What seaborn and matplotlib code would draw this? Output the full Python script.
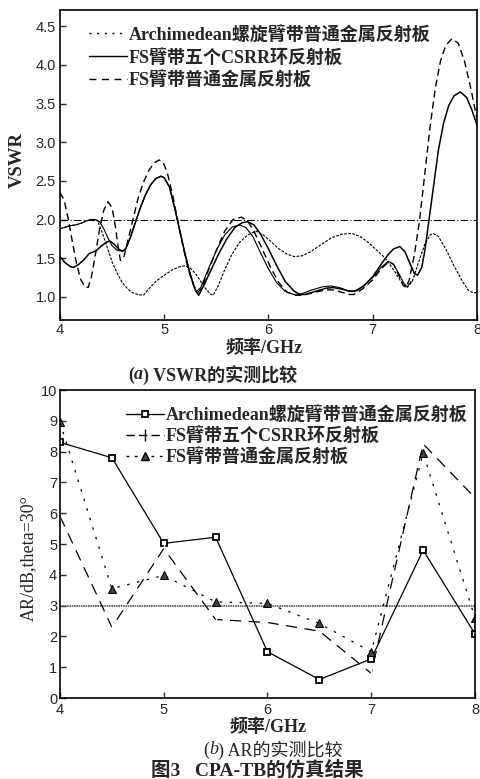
import matplotlib
matplotlib.use("Agg")
import matplotlib.pyplot as plt
import seaborn as sns
from matplotlib.lines import Line2D
from matplotlib.font_manager import FontProperties

# ---------- data: (a) VSWR ----------
# FS臂带普通金属反射板 (dashed)
d_f = [4.00, 4.04, 4.08, 4.12, 4.16, 4.20, 4.24, 4.27, 4.30, 4.34, 4.38, 4.42, 4.46, 4.50,
       4.53, 4.56, 4.58, 4.61, 4.65, 4.70, 4.75, 4.80, 4.85, 4.90, 4.95, 4.99, 5.03, 5.08,
       5.13, 5.18, 5.23, 5.28, 5.32, 5.36, 5.42, 5.50, 5.58, 5.66, 5.74, 5.80, 5.86, 5.94,
       6.02, 6.10, 6.18, 6.26, 6.33, 6.45, 6.55, 6.62, 6.70, 6.78, 6.82, 6.90, 7.00, 7.08,
       7.15, 7.20, 7.25, 7.29, 7.32, 7.35, 7.40, 7.45, 7.50, 7.55, 7.60, 7.65, 7.70, 7.76,
       7.82, 7.88, 7.94, 8.00]
d_v = [2.35, 2.25, 2.00, 1.70, 1.42, 1.22, 1.13, 1.12, 1.25, 1.55, 1.88, 2.12, 2.23, 2.15,
       1.92, 1.62, 1.47, 1.50, 1.72, 2.00, 2.28, 2.48, 2.63, 2.73, 2.77, 2.74, 2.60, 2.32,
       1.98, 1.65, 1.36, 1.15, 1.05, 1.12, 1.33, 1.60, 1.85, 2.00, 2.03, 1.98, 1.85, 1.62,
       1.38, 1.18, 1.06, 1.02, 1.02, 1.06, 1.09, 1.09, 1.06, 1.03, 1.03, 1.10, 1.22, 1.36,
       1.45, 1.42, 1.28, 1.15, 1.12, 1.22, 1.55, 2.00, 2.60, 3.20, 3.70, 4.05, 4.25, 4.34,
       4.28, 4.05, 3.70, 3.30]

# FS臂带五个CSRR环反射板 (solid)
s_f = [4.00, 4.05, 4.10, 4.13, 4.18, 4.23, 4.28, 4.32, 4.35, 4.40, 4.45, 4.48, 4.52, 4.56,
       4.60, 4.63, 4.67, 4.72, 4.77, 4.82, 4.87, 4.92, 4.97, 5.00, 5.05, 5.10, 5.15, 5.20,
       5.25, 5.30, 5.33, 5.38, 5.45, 5.52, 5.60, 5.68, 5.75, 5.80, 5.86, 5.92, 6.00, 6.08,
       6.16, 6.24, 6.30, 6.35, 6.45, 6.55, 6.62, 6.70, 6.78, 6.85, 6.92, 7.00, 7.08, 7.15,
       7.20, 7.26, 7.31, 7.36, 7.40, 7.43, 7.47, 7.50, 7.54, 7.58, 7.63, 7.68, 7.73, 7.78,
       7.84, 7.90, 7.95, 8.00]
s_v = [1.52, 1.44, 1.39, 1.38, 1.42, 1.48, 1.56, 1.58, 1.60, 1.66, 1.71, 1.72, 1.68, 1.62,
       1.59, 1.62, 1.75, 1.95, 2.15, 2.32, 2.45, 2.53, 2.56, 2.54, 2.42, 2.15, 1.85, 1.55,
       1.28, 1.08, 1.02, 1.15, 1.35, 1.55, 1.75, 1.90, 1.96, 1.97, 1.93, 1.82, 1.62, 1.40,
       1.20, 1.08, 1.03, 1.03, 1.07, 1.11, 1.12, 1.10, 1.07, 1.08, 1.15, 1.26, 1.42, 1.55,
       1.62, 1.65, 1.58, 1.42, 1.30, 1.28, 1.38, 1.60, 2.00, 2.40, 2.90, 3.25, 3.48, 3.60,
       3.65, 3.58, 3.42, 3.22]

# second thin solid trace
x_f = [4.00, 4.05, 4.10, 4.15, 4.20, 4.25, 4.30, 4.34, 4.38, 4.42, 4.46, 4.50, 4.55, 4.60,
       4.63, 4.67, 4.72, 4.77, 4.82, 4.87, 4.92, 4.97, 5.00, 5.05, 5.10, 5.15, 5.20, 5.25,
       5.29, 5.31, 5.35, 5.42, 5.50, 5.58, 5.65, 5.72, 5.78, 5.85, 5.92, 6.00, 6.08, 6.16,
       6.24, 6.32, 6.42, 6.52, 6.60, 6.68, 6.76, 6.82, 6.90, 7.00, 7.08, 7.15, 7.20, 7.25,
       7.30, 7.33, 7.37]
x_v = [1.88, 1.90, 1.92, 1.93, 1.95, 1.98, 2.00, 2.00, 1.97, 1.88, 1.76, 1.66, 1.60, 1.59,
       1.62, 1.75, 1.95, 2.15, 2.32, 2.45, 2.53, 2.56, 2.54, 2.42, 2.15, 1.85, 1.55, 1.30,
       1.12, 1.07, 1.12, 1.35, 1.60, 1.80, 1.90, 1.93, 1.90, 1.78, 1.58, 1.36, 1.18, 1.07,
       1.03, 1.04, 1.09, 1.13, 1.14, 1.12, 1.08, 1.07, 1.13, 1.25, 1.38, 1.46, 1.42, 1.30,
       1.17, 1.13, 1.20]

# Archimedean螺旋臂带普通金属反射板 (dotted)
a_f = [4.00, 4.05, 4.10, 4.15, 4.20, 4.25, 4.30, 4.34, 4.36, 4.40, 4.45, 4.50, 4.55, 4.60,
       4.65, 4.70, 4.75, 4.80, 4.85, 4.92, 5.00, 5.08, 5.15, 5.20, 5.25, 5.30, 5.35, 5.40,
       5.44, 5.47, 5.52, 5.58, 5.65, 5.72, 5.80, 5.88, 5.95, 6.02, 6.10, 6.18, 6.25, 6.32,
       6.40, 6.50, 6.60, 6.70, 6.80, 6.88, 6.96, 7.04, 7.12, 7.20, 7.27, 7.33, 7.38, 7.44,
       7.50, 7.55, 7.58, 7.63, 7.70, 7.78, 7.86, 7.92, 7.97, 8.00]
a_v = [1.88, 1.90, 1.92, 1.93, 1.95, 1.98, 2.00, 2.00, 1.98, 1.85, 1.65, 1.45, 1.30, 1.18,
       1.10, 1.05, 1.03, 1.02, 1.10, 1.20, 1.28, 1.35, 1.39, 1.40, 1.37, 1.30, 1.20, 1.10,
       1.04, 1.02, 1.15, 1.35, 1.55, 1.70, 1.80, 1.85, 1.80, 1.72, 1.62, 1.55, 1.52, 1.53,
       1.58, 1.67, 1.76, 1.81, 1.82, 1.78, 1.70, 1.60, 1.50, 1.35, 1.20, 1.12, 1.20, 1.45,
       1.68, 1.80, 1.82, 1.78, 1.62, 1.40, 1.20, 1.08, 1.05, 1.06]

vswr_ref = 2.0

# ---------- data: (b) AR ----------
ar_f = [4.0, 4.5, 5.0, 5.5, 6.0, 6.5, 7.0, 7.5, 8.0]
ar_arch = [8.3, 7.8, 5.02, 5.22, 1.5, 0.6, 1.27, 4.8, 2.08]
ar_csrr = [5.9, 2.3, 4.85, 2.55, 2.45, 2.17, 0.8, 8.25, 6.5]
ar_metal = [8.95, 3.55, 3.98, 3.12, 3.07, 2.42, 1.5, 7.95, 2.6]
ar_ref = 3.0

labels = ["Archimedean螺旋臂带普通金属反射板", "FS臂带五个CSRR环反射板", "FS臂带普通金属反射板"]

# ---------- style ----------
sns.set_style("ticks")
plt.rcParams["font.family"] = ["Liberation Sans", "Noto Sans CJK SC"]
serif = ["Liberation Serif", "Noto Sans CJK SC"]
leg_font = FontProperties(family=serif, weight="bold", size=13)

W, H = 481, 779
fig = plt.figure(figsize=(W / 100, H / 100), dpi=100)


def fx(px):
    return px / W


def fy(py):
    return 1 - py / H


ax1 = fig.add_axes([fx(60), fy(320), 417 / W, 310 / H])
ax2 = fig.add_axes([fx(60), fy(698), 415 / W, 308 / H])

# ---------- (a) VSWR ----------
ax1.axhline(vswr_ref, color="black", lw=0.8, ls=(0, (7, 2, 1, 2)))
sns.lineplot(x=a_f, y=a_v, ax=ax1, color="black", lw=0.8, linestyle=(0, (2.5, 1.2)))
sns.lineplot(x=x_f, y=x_v, ax=ax1, color="black", lw=0.8)
sns.lineplot(x=s_f, y=s_v, ax=ax1, color="black", lw=1.1)
sns.lineplot(x=d_f, y=d_v, ax=ax1, color="black", lw=1.0, linestyle=(0, (5, 3)))

ax1.set_xlim(4, 8)
ax1.set_ylim(0.70, 4.71)
ax1.set_xticks([4, 5, 6, 7, 8])
ax1.set_yticks([1.0, 1.5, 2.0, 2.5, 3.0, 3.5, 4.0, 4.5])
ax1.set_yticklabels(["1.0", "1.5", "2.0", "2.5", "3.0", "3.5", "4.0", "4.5"])
ax1.tick_params(direction="in", length=4, width=1, labelsize=10.5, pad=3)
ax1.tick_params(axis="x", pad=2)
ax1.set_xlabel("")
ax1.set_ylabel("")

h1 = [Line2D([], [], color="black", lw=1.0, ls=(0, (1.5, 4))),
      Line2D([], [], color="black", lw=1.0),
      Line2D([], [], color="black", lw=1.0, ls=(0, (5, 4)))]
ax1.legend(h1, labels, loc="upper left", bbox_to_anchor=(0.04, 0.99), frameon=False,
           prop=leg_font, handlelength=2.1, handletextpad=0.1, labelspacing=0.28,
           borderaxespad=0.3)

# ---------- (b) AR ----------
ax2.axhline(ar_ref, color="0.35", lw=1.2, ls=(0, (1, 0.4)))
sns.lineplot(x=ar_f, y=ar_arch, ax=ax2, color="black", lw=0.9, marker="s",
             markersize=5, markerfacecolor="white", markeredgecolor="black",
             markeredgewidth=1.3)
sns.lineplot(x=ar_f, y=ar_csrr, ax=ax2, color="black", lw=0.9, linestyle=(0, (9, 6)),
             marker="|", markersize=9, markeredgewidth=1.0)
sns.lineplot(x=ar_f, y=ar_metal, ax=ax2, color="black", lw=0.9, linestyle=(0, (2, 6)),
             marker="^", markersize=6, markerfacecolor="0.25", markeredgecolor="black")

ax2.set_xlim(4, 8)
ax2.set_ylim(0, 10)
ax2.set_xticks([4, 5, 6, 7, 8])
ax2.set_yticks(range(0, 11))
ax2.tick_params(direction="in", length=4, width=1, labelsize=10.5, pad=2)
ax2.tick_params(axis="x", pad=3.5)
ax2.set_xlabel("")
ax2.set_ylabel("")

h2 = [Line2D([], [], color="black", lw=1.0, marker="s", markersize=5,
             markerfacecolor="white", markeredgewidth=1.3),
      Line2D([], [], color="black", lw=1.0, ls=(0, (6, 3)), marker="|", markersize=8),
      Line2D([], [], color="black", lw=1.0, ls=(0, (2, 4)), marker="^", markersize=6,
             markerfacecolor="0.25")]
ax2.legend(h2, labels, loc="upper left", bbox_to_anchor=(0.13, 0.985), frameon=False,
           prop=leg_font, handlelength=2.1, handletextpad=0.1, labelspacing=0.18,
           borderaxespad=0.25, numpoints=1)

for ax in (ax1, ax2):
    for sp in ax.spines.values():
        sp.set_visible(True)
        sp.set_linewidth(1.2)
        sp.set_color("black")
    ax.grid(False)

# ---------- labels and captions ----------
fig.text(fx(17), fy(160), "VSWR", rotation=90, ha="center", va="center",
         family=serif, weight="bold", size=13.5)
fig.text(fx(28), fy(558), "AR/dB,theta=30°", rotation=90, ha="center", va="center",
         family=serif, size=13)
fig.text(fx(264), fy(348), "频率/GHz", ha="center", va="center",
         family=serif, weight="bold", size=13)
fig.text(fx(268), fy(727), "频率/GHz", ha="center", va="center",
         family=serif, weight="bold", size=13)

# (a) caption, italic letter
a1 = fig.text(fx(128), fy(375), "(", ha="left", va="center", family=serif,
              weight="bold", size=13)
a2 = plt.annotate("a", xy=(1, 0.5), xycoords=a1, va="center", ha="left",
                  family=serif, weight="bold", style="italic", size=13)
plt.annotate(") VSWR的实测比较", xy=(1, 0.5), xycoords=a2, va="center", ha="left",
             family=serif, weight="bold", size=13)

# (b) caption
b1 = fig.text(fx(203), fy(750), "(", ha="left", va="center", family=serif, size=13)
b2 = plt.annotate("b", xy=(1, 0.5), xycoords=b1, va="center", ha="left",
                  family=serif, style="italic", size=13)
plt.annotate(") AR的实测比较", xy=(1, 0.5), xycoords=b2, va="center", ha="left",
             family=serif, size=13)

fig.text(fx(257), fy(770), "图3   CPA-TB的仿真结果", ha="center", va="center",
         family=serif, weight="bold", size=14)

fig.savefig("out.png", dpi=100)
